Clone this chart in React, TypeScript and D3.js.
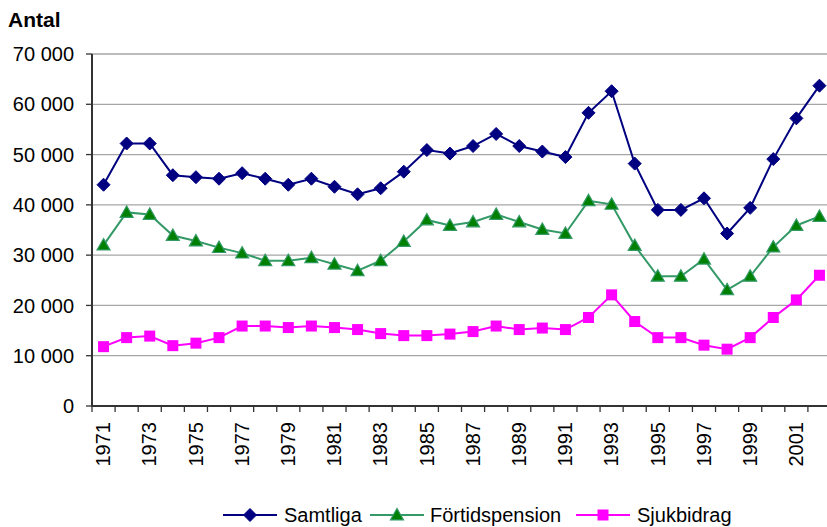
import React from "react";
import * as d3 from "d3";

const years: string[] = [
  "1971","1972","1973","1974","1975","1976","1977","1978","1979","1980",
  "1981","1982","1983","1984","1985","1986","1987","1988","1989","1990",
  "1991","1992","1993","1994","1995","1996","1997","1998","1999","2000",
  "2001","2002",
];
const samtliga: number[] = [
  44000, 52200, 52200, 45900, 45500, 45200, 46300, 45200, 44000, 45200,
  43600, 42100, 43300, 46600, 50900, 50200, 51700, 54100, 51700, 50600,
  49500, 58300, 62600, 48200, 39000, 39000, 41300, 34300, 39400, 49100,
  57200, 63700,
];
const fortidspension: number[] = [
  32000, 38500, 38100, 33900, 32800, 31500, 30400, 28900, 28900, 29500,
  28200, 26900, 28900, 32700, 37000, 35900, 36600, 38100, 36600, 35100,
  34300, 40800, 40100, 31900, 25800, 25800, 29200, 23100, 25800, 31600,
  35900, 37700,
];
const sjukbidrag: number[] = [
  11800, 13600, 13900, 12000, 12500, 13600, 15900, 15900, 15600, 15900,
  15600, 15200, 14400, 14000, 14000, 14300, 14800, 15900, 15200, 15500,
  15200, 17600, 22100, 16800, 13600, 13600, 12100, 11300, 13600, 17600,
  21100, 26000,
];
const yTicks: number[] = [0, 10000, 20000, 30000, 40000, 50000, 60000, 70000];
const xLabelYears: string[] = years.filter((_, i) => i % 2 === 0);
const seriesNames: string[] = ["Samtliga", "Förtidspension", "Sjukbidrag"];

const W = 827;
const H = 527;
const left = 92;
const right = 831;
const top = 54;
const bottom = 406;
const FONT = "'Liberation Sans', Arial, sans-serif";

const fmt = (v: number) => d3.format(",")(v).replace(/,/g, "\u00a0");

function Marker({ kind, x, y }: { kind: string; x: number; y: number }) {
  if (kind === "diamond") {
    const r = 6.5;
    return (
      <path
        d={`M${x},${y - r}L${x + r},${y}L${x},${y + r}L${x - r},${y}Z`}
        fill="#000080"
        stroke="#000080"
        strokeWidth={1}
      />
    );
  }
  if (kind === "triangle") {
    const s = 6.5;
    return (
      <path
        d={`M${x},${y - s}L${x + s},${y + s * 0.75}L${x - s},${y + s * 0.75}Z`}
        fill="#008000"
        stroke="#339966"
        strokeWidth={1.2}
      />
    );
  }
  const s = 5.5;
  return <rect x={x - s} y={y - s} width={2 * s} height={2 * s} fill="#FF00FF" />;
}

export default function App() {
  const x = d3.scaleBand<string>().domain(years).range([left, right]);
  const y = d3.scaleLinear().domain([0, 70000]).range([bottom, top]);
  const cx = (yr: string) => (x(yr) as number) + x.bandwidth() / 2;

  const series = [
    { name: seriesNames[0], values: samtliga, color: "#000080", marker: "diamond" },
    { name: seriesNames[1], values: fortidspension, color: "#339966", marker: "triangle" },
    { name: seriesNames[2], values: sjukbidrag, color: "#FF00FF", marker: "square" },
  ];

  const line = d3
    .line<number>()
    .x((_, i) => cx(years[i]))
    .y((d) => y(d));

  const legendItems = [
    { lx: 223, tx: 284 },
    { lx: 370, tx: 430 },
    { lx: 576, tx: 637 },
  ];
  const legendY = 515;

  return (
    <svg
      width={W}
      height={H}
      style={{ position: "absolute", left: 0, top: 0, background: "#fff" }}
      fontFamily={FONT}
    >
      <rect x={0} y={0} width={W} height={H} fill="#fff" />
      <text x={8} y={27} fontSize={21} fontWeight="bold" fill="#000">
        Antal
      </text>
      {yTicks.map((t) => (
        <g key={t}>
          {t > 0 && (
            <line x1={left} x2={W} y1={y(t)} y2={y(t)} stroke="#a6a6a6" strokeWidth={1.3} />
          )}
          <line x1={left - 6} x2={left} y1={y(t)} y2={y(t)} stroke="#333" strokeWidth={1.3} />
          <text x={74} y={y(t)} dy="0.36em" textAnchor="end" fontSize={20} fill="#000">
            {fmt(t)}
          </text>
        </g>
      ))}
      <line x1={left} x2={left} y1={top} y2={bottom + 1} stroke="#333" strokeWidth={2} />
      <line x1={left} x2={W} y1={bottom} y2={bottom} stroke="#333" strokeWidth={2} />
      {years.map((yr) => (
        <line
          key={yr}
          x1={x(yr) as number}
          x2={x(yr) as number}
          y1={bottom}
          y2={bottom + 6}
          stroke="#333"
          strokeWidth={1.3}
        />
      ))}
      {xLabelYears.map((yr) => (
        <text
          key={yr}
          transform={`translate(${cx(yr) - 0.5},${bottom + 16}) rotate(-90)`}
          dy="0.36em"
          textAnchor="end"
          fontSize={20}
          fill="#000"
        >
          {yr}
        </text>
      ))}
      {series.map((s) => (
        <g key={s.name}>
          <path d={line(s.values) || ""} fill="none" stroke={s.color} strokeWidth={2} />
          {s.values.map((v, i) => (
            <Marker key={i} kind={s.marker} x={cx(years[i])} y={y(v)} />
          ))}
        </g>
      ))}
      {series.map((s, i) => {
        const it = legendItems[i];
        return (
          <g key={s.name}>
            <line x1={it.lx} x2={it.lx + 54} y1={legendY} y2={legendY} stroke={s.color} strokeWidth={2} />
            <Marker kind={s.marker} x={it.lx + 27} y={legendY} />
            <text x={it.tx} y={legendY} dy="0.36em" fontSize={20} fill="#000">
              {s.name}
            </text>
          </g>
        );
      })}
    </svg>
  );
}
